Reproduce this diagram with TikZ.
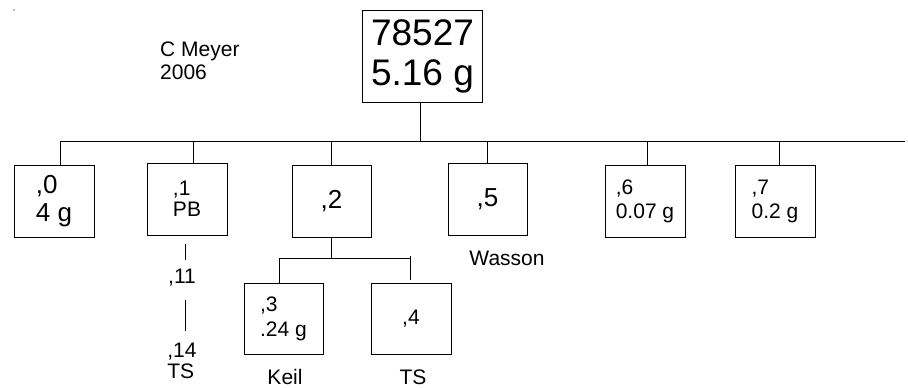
\documentclass[tikz,border=0pt]{standalone}
\usepackage{fontspec}
\setmainfont{Liberation Sans}
\begin{document}
\begin{tikzpicture}[x=1pt,y=-1pt,
  box/.style={draw, line width=1pt, inner sep=0pt, align=left},
  fbig/.style={font=\fontsize{37}{40}\selectfont},
  fmid/.style={font=\fontsize{26}{28}\selectfont},
  fsmall/.style={font=\fontsize{21}{24}\selectfont},
  label/.style={inner sep=0pt, font=\fontsize{21}{23}\selectfont, align=left},
  wire/.style={line width=1pt}]
\useasboundingbox (0,0) rectangle (908,388);

% tiny speck in the corner
\fill[gray!55] (13,9) rectangle (15,11);

% author note
\node[label, anchor=north west] (author) at (160,42) {C Meyer\\2006};

% main mass
\node[box, fbig, minimum width=120pt, minimum height=92pt] (top) at (422.5,56) {78527\\5.16 g};

% first row of splits
\node[box, fmid,   minimum width=80pt, minimum height=72pt, font=\fontsize{26}{28}\selectfont] (n0) at (54,201)   {,0\\4 g};
\node[box, fsmall, minimum width=80pt, minimum height=72pt, font=\fontsize{21}{21}\selectfont] (n1) at (187,199)  {,1\\PB};
\node[box, fmid,   minimum width=79pt, minimum height=72pt] (n2) at (331.5,201) {,2};
\node[box, fmid,   minimum width=79pt, minimum height=72pt] (n5) at (487.5,199) {,5};
\node[box, fsmall, minimum width=80pt, minimum height=72pt] (n6) at (645,201)  {,6\\0.07 g};
\node[box, fsmall, minimum width=80pt, minimum height=72pt] (n7) at (775,201)  {,7\\0.2 g};

% second row under ,2
\node[box, fsmall, minimum width=79pt, minimum height=71pt, font=\fontsize{21}{25}\selectfont] (n3) at (283.5,318.5) {,3\\.24 g};
\node[box, fsmall, minimum width=80pt, minimum height=71pt] (n4) at (411,318.5) {,4};

% chain under ,1
\node[label] (n11) at (182,278) {,11};
\node[label, font=\fontsize{21}{21}\selectfont] (n14) at (182,361) {,14\\TS};

% holders
\node[label, anchor=base] (keil) at (285,384) {Keil};
\node[label, anchor=base] (ts) at (413,384) {TS};
\node[label, anchor=base] (wasson) at (507,265) {Wasson};

% main bus
\coordinate (busL) at (60,141);
\coordinate (busR) at (905,141);
\draw[wire] (busL) -- (busR);
\draw[wire] ([xshift=-2.5pt]top.south) -- ([xshift=-2.5pt]top.south |- busL);
\draw[wire] ([xshift=6pt]n0.north) -- ([xshift=6pt]n0.north |- busL);
\draw[wire] ([xshift=6pt]n1.north) -- ([xshift=6pt]n1.north |- busL);
\draw[wire] (n2.north) -- (n2.north |- busL);
\draw[wire] (n5.north) -- (n5.north |- busL);
\draw[wire] ([xshift=2pt]n6.north) -- ([xshift=2pt]n6.north |- busL);
\draw[wire] ([xshift=4pt]n7.north) -- ([xshift=4pt]n7.north |- busL);

% sub bus under ,2
\coordinate (subL) at (279,258);
\coordinate (subR) at (410,258);
\draw[wire] (subL) -- (subR);
\draw[wire] (n2.south) -- (n2.south |- subL);
\draw[wire] (subL) -- (subL |- n3.north);
\draw[wire] ([yshift=2pt]subR) -- ([yshift=3pt]subR |- n4.north);

% chain lines under ,1
\draw[wire] ([xshift=-2pt,yshift=-8pt]n1.south) -- ([xshift=3pt,yshift=9pt]n11.north);
\draw[wire] ([xshift=3pt,yshift=-13pt]n11.south) -- ([xshift=3pt,yshift=12pt]n14.north);
\end{tikzpicture}
\end{document}
